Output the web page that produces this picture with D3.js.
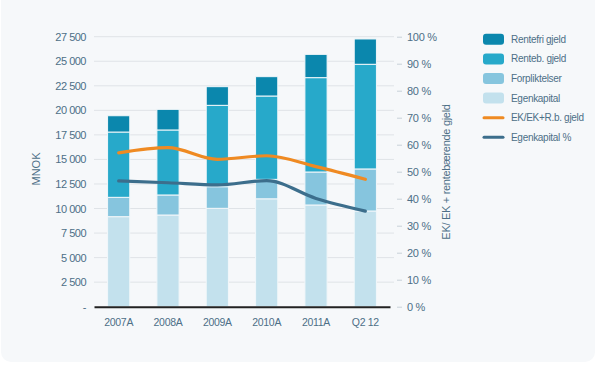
<html>
<script src='https://d3js.org/d3.v7.min.js'></script>
<style>
body { margin: 0; background: #fff; }
text { font-family: "Liberation Sans", Arial, sans-serif; fill: #4d6f87; }
</style>
<body>
<svg width=600 height=367></svg>
<script>
var categories = ["2007A", "2008A", "2009A", "2010A", "2011A", "Q2 12"];
var egenkapital  = [9170, 9340, 10020, 10990, 10360, 9750];
var forpliktelser = [1970, 2040, 2200, 1980, 3360, 4280];
var rentebGjeld  = [6650, 6620, 8290, 8490, 9610, 10660];
var rentefriGjeld = [1660, 2100, 1900, 1970, 2370, 2580];
var ekEkRb = [57.0, 58.9, 54.6, 55.9, 51.9, 47.2];
var ekPct  = [46.6, 45.9, 45.1, 46.7, 40.1, 35.4];
var leftTicks = [0, 2500, 5000, 7500, 10000, 12500, 15000, 17500, 20000, 22500, 25000, 27500];
var rightTicks = [0, 10, 20, 30, 40, 50, 60, 70, 80, 90, 100];

var seriesNames = ["Egenkapital", "Forpliktelser", "Renteb. gjeld", "Rentefri gjeld"];
var colors = {
  "Egenkapital": "#c3e1ed",
  "Forpliktelser": "#86c5de",
  "Renteb. gjeld": "#27a9ca",
  "Rentefri gjeld": "#0b87ad"
};

var svg = d3.select("svg");

// card background
svg.append("rect")
  .attr("x", 1).attr("y", -10)
  .attr("width", 594).attr("height", 372)
  .attr("rx", 10)
  .attr("fill", "#f6f8fa");

var plotLeft = 94, plotRight = 390, plotTop = 36.7, plotBottom = 306.7;

var x = d3.scaleBand().domain(categories).range([plotLeft, plotRight]).paddingInner(0.55).paddingOuter(0.275);
var y = d3.scaleLinear().domain([0, 27500]).range([plotBottom, plotTop]);
var y2 = d3.scaleLinear().domain([0, 100]).range([plotBottom, plotTop]);

// gridlines
svg.append("g").selectAll("line")
  .data(leftTicks.slice(1))
  .enter().append("line")
  .attr("x1", plotLeft).attr("x2", 394)
  .attr("y1", function(d) { return y(d); })
  .attr("y2", function(d) { return y(d); })
  .attr("stroke", "#dfe3e7").attr("stroke-width", 1);

// left axis
var ya = svg.append("g")
  .attr("transform", "translate(" + plotLeft + ",0)")
  .call(d3.axisLeft(y).tickValues(leftTicks).tickSize(0).tickPadding(8)
    .tickFormat(function(d) { return d === 0 ? "-" : d3.format(",")(d).replace(",", " "); }));
ya.select(".domain").remove();
ya.selectAll("text").style("font-size", "11px").attr("fill", "#4d6f87").style("letter-spacing", "-0.5px");

// right axis
var yb = svg.append("g")
  .attr("transform", "translate(397,0)")
  .call(d3.axisRight(y2).tickValues(rightTicks).tickSize(5).tickPadding(5)
    .tickFormat(function(d) { return d + " %"; }));
yb.select(".domain").remove();
yb.selectAll("line").attr("stroke", "#c9d1d8");
yb.selectAll("text").style("font-size", "11px").attr("fill", "#4d6f87").style("letter-spacing", "-0.3px");

// stacked bars
var rows = categories.map(function(c, i) {
  return { cat: c, "Egenkapital": egenkapital[i], "Forpliktelser": forpliktelser[i],
           "Renteb. gjeld": rentebGjeld[i], "Rentefri gjeld": rentefriGjeld[i] };
});
var stack = d3.stack().keys(seriesNames)(rows);

svg.append("g").selectAll("g")
  .data(stack)
  .enter().append("g")
  .attr("fill", function(d) { return colors[d.key]; })
  .selectAll("rect")
  .data(function(d) { return d; })
  .enter().append("rect")
  .attr("x", function(d) { return x(d.data.cat); })
  .attr("y", function(d) { return y(d[1]); })
  .attr("width", x.bandwidth())
  .attr("height", function(d) { return y(d[0]) - y(d[1]); })
  .attr("stroke", "#f2f7fa").attr("stroke-width", 1);

// bottom axis
var xa = svg.append("g")
  .attr("transform", "translate(0," + plotBottom + ")")
  .call(d3.axisBottom(x).tickSize(0).tickPadding(12));
xa.select(".domain").attr("stroke", "#222").attr("stroke-width", 2);
xa.selectAll("text").style("font-size", "10.5px").attr("fill", "#4d6f87").style("letter-spacing", "-0.3px");

// lines
var line = d3.line()
  .x(function(d, i) { return x(categories[i]) + x.bandwidth() / 2; })
  .y(function(d) { return y2(d); })
  .curve(d3.curveMonotoneX);

svg.append("path").datum(ekEkRb)
  .attr("d", line).attr("fill", "none")
  .attr("stroke", "#ef8a22").attr("stroke-width", 3.2).attr("stroke-linecap", "round");
svg.append("path").datum(ekPct)
  .attr("d", line).attr("fill", "none")
  .attr("stroke", "#3c6e8c").attr("stroke-width", 3.2).attr("stroke-linecap", "round");

// axis titles
svg.append("text")
  .attr("transform", "translate(40,169) rotate(-90)")
  .attr("text-anchor", "middle")
  .style("font-size", "11px")
  .text("MNOK");
svg.append("text")
  .attr("transform", "translate(450,172) rotate(-90)")
  .attr("text-anchor", "middle")
  .style("font-size", "11px")
  .style("letter-spacing", "-0.3px")
  .text("EK/ EK + rentebærende gjeld");

// legend
var legendItems = [
  { name: "Rentefri gjeld", type: "box", color: colors["Rentefri gjeld"] },
  { name: "Renteb. gjeld", type: "box", color: colors["Renteb. gjeld"] },
  { name: "Forpliktelser", type: "box", color: colors["Forpliktelser"] },
  { name: "Egenkapital", type: "box", color: colors["Egenkapital"] },
  { name: "EK/EK+R.b. gjeld", type: "line", color: "#ef8a22" },
  { name: "Egenkapital %", type: "line", color: "#3c6e8c" }
];
var lg = svg.append("g").selectAll("g")
  .data(legendItems)
  .enter().append("g")
  .attr("transform", function(d, i) { return "translate(483," + (39.3 + i * 19.6) + ")"; });
lg.filter(function(d) { return d.type === "box"; })
  .append("rect")
  .attr("x", 0).attr("y", -5.5).attr("width", 21).attr("height", 11).attr("rx", 3)
  .attr("fill", function(d) { return d.color; });
lg.filter(function(d) { return d.type === "line"; })
  .append("line")
  .attr("x1", 1).attr("x2", 20).attr("y1", 0).attr("y2", 0)
  .attr("stroke", function(d) { return d.color; }).attr("stroke-width", 3).attr("stroke-linecap", "round");
lg.append("text")
  .attr("x", 28).attr("y", 0).attr("dy", "0.35em")
  .style("font-size", "10px")
  .style("letter-spacing", "-0.3px")
  .attr("fill", "#333")
  .text(function(d) { return d.name; });
</script>
</body>
</html>
